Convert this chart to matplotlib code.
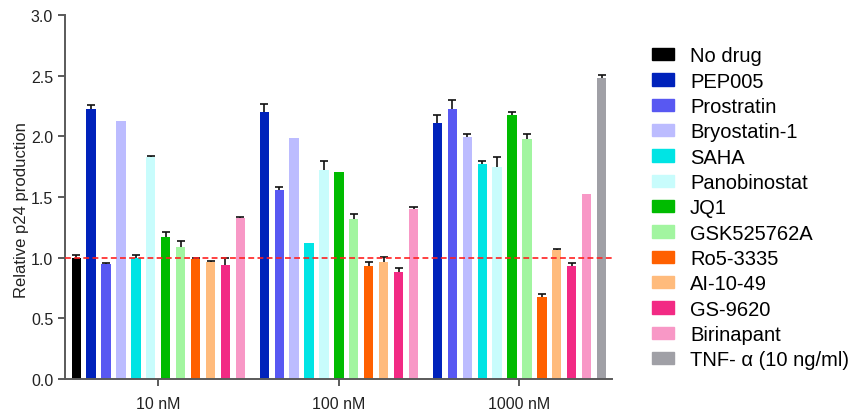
"""Relative p24 production by latency-reversing agent and dose (grouped bars)."""

import matplotlib

matplotlib.use("Agg")
import matplotlib.pyplot as plt
import numpy as np
from matplotlib.patches import Patch

plt.rcParams["font.family"] = ["Liberation Sans", "DejaVu Sans"]

# --------------------------------------------------------------------------- #
# Data
# --------------------------------------------------------------------------- #
doses = ["10 nM", "100 nM", "1000 nM"]
drugs = ["PEP005", "Prostratin", "Bryostatin-1", "SAHA", "Panobinostat", "JQ1",
         "GSK525762A", "Ro5-3335", "AI-10-49", "GS-9620", "Birinapant"]

mean_10 = [2.23, 0.95, 2.13, 1.00, 1.83, 1.17, 1.09, 0.99, 0.965, 0.94, 1.325]
err_10 = [0.03, 0.01, 0.0, 0.025, 0.01, 0.045, 0.045, 0.01, 0.008, 0.055, 0.01]

mean_100 = [2.20, 1.56, 1.99, 1.125, 1.72, 1.705, 1.32, 0.93, 0.965, 0.885, 1.40]
err_100 = [0.065, 0.022, 0.0, 0.0, 0.08, 0.0, 0.04, 0.035, 0.045, 0.027, 0.022]

mean_1000 = [2.11, 2.225, 1.995, 1.77, 1.745, 2.18, 1.98, 0.68, 1.065, 0.93, 1.525]
err_1000 = [0.063, 0.077, 0.025, 0.027, 0.085, 0.02, 0.044, 0.022, 0.008, 0.027, 0.0]

nodrug_mean, nodrug_err = 1.00, 0.02
tnf_mean, tnf_err = 2.485, 0.022

drug_colors = ["#0022BB", "#5858F2", "#BCBCFF", "#00E4E4", "#C8FCFC", "#00BB00",
               "#A2F5A0", "#FF6000", "#FFBB7C", "#F22A84", "#F898C6"]
nodrug_color = "#000000"
tnf_color = "#A0A0A6"

# --------------------------------------------------------------------------- #
# Layout: one slot per bar, wider gap between dose groups
# --------------------------------------------------------------------------- #
bar_w = 0.62
cap_half = 0.27
group_gap = 1.6
n = len(drugs)

x_nodrug = 0.0
x_g1 = np.arange(n) + 1.0
x_g2 = x_g1[-1] + group_gap + np.arange(n)
x_g3 = x_g2[-1] + group_gap + np.arange(n)
x_tnf = x_g3[-1] + 1.0

fig = plt.figure(figsize=(8.61, 4.14), dpi=100)
ax = fig.add_axes([0.0755, 0.082, 0.635, 0.879])


def upper_err(xs, means, errs):
    """GraphPad 式單邊（向上）誤差棒；err 為 0 的不畫。"""
    xs, means, errs = map(np.atleast_1d, (xs, means, errs))
    keep = errs > 0
    xs, lo, hi = xs[keep], means[keep], means[keep] + errs[keep]
    ax.vlines(xs, lo, hi, color="#111111", linewidth=1.2, zorder=1)
    ax.hlines(hi, xs - cap_half, xs + cap_half, color="#111111", linewidth=1.2, zorder=1)


ax.bar(x_nodrug, nodrug_mean, bar_w, color=nodrug_color, zorder=2)
upper_err(x_nodrug, nodrug_mean, nodrug_err)
for xs, means, errs in ((x_g1, mean_10, err_10),
                        (x_g2, mean_100, err_100),
                        (x_g3, mean_1000, err_1000)):
    ax.bar(xs, means, bar_w, color=drug_colors, zorder=2)
    upper_err(xs, means, errs)
ax.bar(x_tnf, tnf_mean, bar_w, color=tnf_color, zorder=2)
upper_err(x_tnf, tnf_mean, tnf_err)

# baseline = no drug
ax.axhline(1.0, color="#FF2020", linestyle=(0, (3.5, 2)), linewidth=1.2, zorder=3)

ax.set_xlim(x_nodrug - 0.75, x_tnf + 0.68)
ax.set_ylim(0, 3.0)
ax.set_yticks(np.arange(0, 3.01, 0.5))
ax.set_yticklabels([f"{v:.1f}" for v in np.arange(0, 3.01, 0.5)])
centers = [(x_nodrug + x_g1[-1]) / 2, x_g2.mean(), (x_g3[0] + x_tnf) / 2]
ax.set_xticks(centers)
ax.set_xticklabels(doses)
ax.set_ylabel("Relative p24 production", fontsize=12, color="#222222")
ax.yaxis.set_label_coords(-0.066, 0.468)

for side in ("top", "right"):
    ax.spines[side].set_visible(False)
for side in ("left", "bottom"):
    ax.spines[side].set_color("#5a5a5a")
    ax.spines[side].set_linewidth(1.4)
ax.tick_params(axis="both", colors="#5a5a5a", labelcolor="#222222",
               labelsize=11.5, width=1.4, length=5)
ax.tick_params(axis="x", pad=7)

handles = [Patch(color=nodrug_color, label="No drug")]
handles += [Patch(color=c, label=d) for c, d in zip(drug_colors, drugs)]
handles.append(Patch(color=tnf_color, label="TNF- \u03b1 (10 ng/ml)"))
fig.legend(handles=handles, loc="upper left", bbox_to_anchor=(0.757, 0.886),
           frameon=False, fontsize=14.5, handlelength=1.1, handleheight=0.56,
           handletextpad=0.8, labelspacing=0.315, borderpad=0, borderaxespad=0)

fig.savefig("out.png", dpi=100)
plt.close(fig)
